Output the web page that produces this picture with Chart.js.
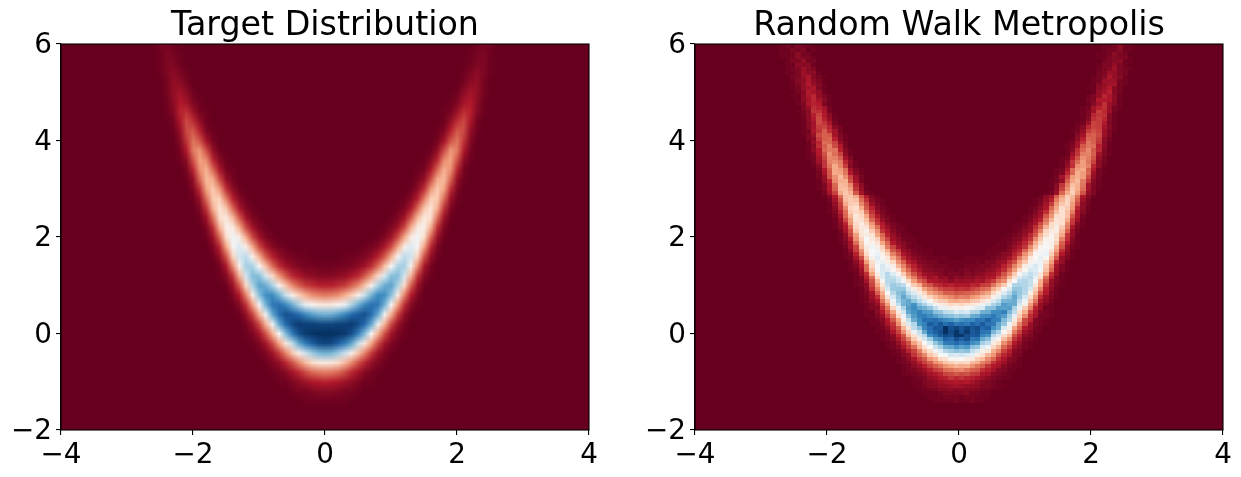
<!DOCTYPE html>
<html>
<head>
<meta charset="utf-8">
<script src="https://cdn.jsdelivr.net/npm/chart.js@4"></script>
<style>
html, body { margin: 0; padding: 0; background: #fff; overflow: hidden; }
.panel { position: absolute; top: 0; height: 477px; }
</style>
</head>
<body>
<div class="panel" style="left:0;width:620px"><canvas id="target"></canvas></div>
<div class="panel" style="left:620px;width:621px"><canvas id="walk"></canvas></div>
<script>
// density, in percent of the colour scale. rows go from y=-1.4 up in steps of 0.2,
// each row starts at targetStart (tenths of x) and is mirrored around x=0
const targetStart = [0,0,0,0,0,0,0,0,0,0,0,0,0,0,0,3,6,8,9,10,11,12,13,14,14,15,16,17,17,18,18,19,20,20,21,21,22,22];
const targetRows = [
  [1,1,1,1],
  [4,4,3,2,2,1],
  [11,10,9,7,5,3,1,1],
  [24,23,21,17,12,8,4,2,1],
  [45,44,40,34,26,18,12,6,3,1],
  [74,73,68,61,47,36,25,15,7,3,1],
  [96,95,91,85,76,62,44,30,17,8,3,1],
  [100,100,99,98,94,85,72,50,32,18,8,3,1],
  [96,96,97,97,98,95,89,76,53,33,17,7,2],
  [74,75,78,83,89,92,94,88,76,52,32,16,6,1],
  [45,46,49,54,66,75,83,88,86,74,50,29,13,4,1],
  [24,25,27,32,38,47,62,74,82,81,71,46,25,10,3],
  [11,11,13,15,20,26,36,48,66,75,77,66,40,20,7,1],
  [4,4,5,6,9,12,19,28,40,58,71,72,60,33,14,4,1],
  [1,1,2,2,3,5,8,13,22,35,50,66,67,47,26,9,2],
  [1,1,2,3,6,11,19,32,48,63,60,39,18,6,1],
  [1,2,4,9,17,31,47,57,49,30,12,3],
  [1,3,8,17,31,46,52,41,21,7,1],
  [1,3,8,17,32,46,47,32,13,3],
  [1,3,8,19,34,45,41,22,7,1],
  [1,3,9,21,36,43,32,14,3],
  [1,4,11,24,38,37,22,7,1],
  [1,5,13,28,37,30,13,3],
  [2,6,17,31,34,21,6,1],
  [1,2,9,21,32,27,12,2],
  [1,4,12,26,30,18,5,1],
  [1,6,17,28,24,10,2],
  [2,8,18,23,14,4],
  [1,3,11,19,17,6,1],
  [1,6,13,17,9,2],
  [1,2,7,13,11,4,1],
  [1,3,8,10,5,1],
  [1,5,8,6,2],
  [0,2,5,6,2,0],
  [1,3,5,3,1],
  [0,1,3,3,1,0],
  [1,2,3,1,0],
  [0,1,2,2,0],
];

// histogram of the walk, 100 bins a side. walkCore: one blob per row, y=-1.40 up in steps of 0.08
const walkCoreStart = [44,44,43,42,41,41,40,39,39,38,38,38,37,37,36,36,35,35,34,34,33,33,32,32,32,32,31,31,31,31,30,30,30,30,29,29,29,28];
const walkCoreRows = [
  [0,1,1,1,1,2,1,1,2,1,1,0],
  [1,1,1,2,2,2,1,2,2,1,1,1],
  [1,1,1,2,3,3,3,3,4,2,2,1,1,0],
  [1,1,2,3,4,4,5,4,5,4,4,3,2,2,1,1],
  [1,1,2,4,4,6,6,7,8,7,6,6,5,3,3,2,1,1],
  [1,1,3,4,5,7,8,9,10,9,10,8,6,4,3,2,1,0],
  [0,1,2,3,6,7,10,11,14,12,14,12,11,9,7,5,3,2,1,1],
  [1,1,2,3,5,8,10,12,16,17,19,17,18,15,14,9,8,4,3,2,1,0],
  [1,2,3,5,7,11,15,17,22,23,25,26,23,20,19,13,11,8,4,3,1,1],
  [0,1,2,5,7,11,16,20,23,28,30,33,31,32,27,23,20,14,10,8,4,2,1,1],
  [1,2,3,6,11,16,20,27,30,36,38,41,39,40,34,32,25,22,14,10,7,3,2,1],
  [1,2,5,9,15,19,28,32,40,42,49,48,50,46,45,37,34,26,21,13,9,4,3,1],
  [1,1,4,6,14,20,26,36,40,50,51,59,57,60,57,55,46,42,33,28,18,12,8,3,2,0],
  [1,2,5,11,16,24,35,41,52,56,65,68,71,69,71,62,58,47,44,32,26,16,11,4,3,1],
  [1,2,4,9,15,22,33,42,50,61,67,75,76,80,77,79,71,69,57,52,39,33,21,15,7,4,2,1],
  [1,2,6,12,18,30,37,50,59,70,76,85,86,89,86,88,81,79,67,63,46,40,27,20,10,6,2,1],
  [1,2,4,9,16,25,37,45,59,68,79,82,91,89,94,91,94,86,87,75,71,56,48,34,27,14,9,3,2,1],
  [1,2,5,12,19,34,42,58,64,81,87,92,95,94,99,99,94,92,93,83,80,64,58,41,34,18,12,5,3,1],
  [1,1,3,9,16,27,38,53,62,76,87,91,94,100,95,99,94,98,92,94,87,86,73,66,49,41,24,16,7,4,1,1],
  [1,2,5,12,19,33,44,63,71,83,88,93,92,100,94,96,93,96,93,95,89,91,80,75,58,47,30,21,10,6,2,1],
  [1,1,3,9,14,27,40,57,65,80,84,92,89,93,88,91,86,88,86,91,88,92,87,86,76,70,53,40,25,16,7,3,2,1],
  [1,2,4,10,19,30,47,62,75,81,88,87,88,85,82,80,77,80,82,82,87,86,91,85,84,72,64,45,33,17,12,3,2,1],
  [1,1,3,6,15,24,40,53,70,78,84,85,81,78,75,72,71,68,70,68,75,76,81,82,86,81,78,67,55,38,26,13,8,2,2,1],
  [1,1,5,10,19,30,45,60,76,80,84,79,78,71,69,63,62,57,60,58,65,66,74,75,81,81,84,73,63,42,32,17,10,3,2,1],
  [1,3,4,13,23,39,54,66,78,81,76,74,70,62,54,54,47,49,47,51,52,58,58,71,71,78,77,78,66,54,37,25,11,6,1,1],
  [1,3,6,17,29,47,62,74,76,80,71,66,59,52,46,44,40,42,39,42,44,46,53,58,66,70,78,76,75,58,47,29,17,6,3,1],
  [1,2,5,9,23,35,53,67,73,76,70,63,57,49,40,37,36,32,31,33,32,36,37,42,46,57,63,73,74,75,63,53,35,23,9,5,2,0],
  [1,2,7,13,28,43,59,69,76,70,63,58,45,39,34,30,28,26,23,25,24,28,30,35,37,47,55,65,70,76,68,59,41,28,13,6,3,1],
  [1,3,8,20,32,50,64,71,73,63,57,46,39,30,27,24,20,20,18,19,20,21,23,27,30,39,46,57,64,73,69,64,47,34,18,10,3,1],
  [1,4,13,25,38,58,68,69,69,58,46,40,30,25,21,17,15,15,13,14,13,16,18,21,23,32,38,49,58,69,69,65,58,38,25,11,5,1],
  [1,2,5,16,30,44,62,68,66,63,49,37,32,21,18,13,12,10,11,9,10,9,12,11,15,16,23,30,37,49,65,66,65,62,44,30,14,6,2,1],
  [1,2,8,18,34,49,64,65,60,52,40,29,21,17,10,9,8,7,5,7,6,7,7,9,8,12,15,23,27,42,50,63,65,62,51,32,18,6,3,1],
  [1,3,11,22,41,56,64,62,57,45,31,24,15,12,7,9,5,6,3,5,4,5,5,7,6,9,10,17,22,33,43,57,62,64,54,41,22,11,3,1],
  [1,6,13,30,46,57,64,57,49,37,26,18,12,7,6,5,4,2,3,3,2,4,3,4,5,7,8,12,18,26,37,49,57,62,59,44,30,13,6,1],
  [1,2,7,21,35,51,58,56,49,41,29,21,13,9,5,4,3,3,2,2,1,2,3,2,3,3,5,6,9,13,21,29,41,49,58,56,51,35,21,7,3,1],
  [1,3,10,22,39,51,58,53,46,33,25,16,11,6,4,3,2,2,2,1,1,1,2,2,2,3,3,5,6,11,16,25,33,46,53,58,53,37,24,8,3,1],
  [1,5,12,29,41,53,54,46,39,27,20,11,8,4,3,2,2,1,1,1,1,1,1,1,2,1,3,3,6,7,13,18,29,37,48,52,53,41,29,12,6,1],
  [1,2,8,17,35,47,56,49,44,31,23,13,8,5,3,2,1,1,1,1,0,0,0,1,1,1,1,1,2,3,5,8,13,23,31,44,50,54,49,33,19,6,3,1],
];
// above that the band splits in two arms, y=1.64 up in steps of 0.08
const walkLeftStart = [28,28,27,27,27,27,27,26,26,26,26,25,25,25,25,24,23,23,23,22,22,22,22,21,21,21,20,20,20,20,19,19,19,19,19,19,19,19,19,18,18,18,18,17,17,17,17,17,16,16,16,16,15,15,15];
const walkLeftRows = [
  [1,3,11,24,40,50,53,47,38,25,18,9,6,3,2,1,1],
  [1,5,15,27,44,50,52,41,32,19,14,6,5,2,1,1,1],
  [0,2,8,16,34,45,52,46,38,24,16,8,5,2,1,1,0],
  [1,3,8,22,36,49,47,43,30,21,10,6,4,2,1,0],
  [1,4,11,27,39,50,45,38,24,16,7,5,2,1,1],
  [1,5,16,29,43,46,43,30,21,11,6,3,1,1],
  [2,8,18,36,44,47,37,27,14,9,4,2,1],
  [1,4,10,22,39,44,43,31,22,11,7,3,1,1],
  [1,5,12,28,40,46,38,28,15,10,4,2,1],
  [1,6,17,29,43,41,35,21,13,6,3,1],
  [2,8,21,33,44,39,30,17,10,4,2,1],
  [1,3,11,22,37,40,37,24,14,6,3,1],
  [1,4,14,26,39,41,31,19,11,4,2,1],
  [1,6,15,31,37,38,26,17,7,3,1],
  [2,8,18,34,37,35,22,13,5,2,1],
  [1,3,10,22,35,36,31,18,10,3,1],
  [0,2,8,16,31,36,33,19,8,2,1],
  [1,3,10,20,34,35,29,14,6,1,0],
  [1,3,10,21,34,33,26,12,5,1,0],
  [0,1,6,12,26,32,32,18,8,2,0],
  [0,2,6,18,27,34,27,16,7,2,0],
  [0,2,9,19,31,30,23,10,4,1,0],
  [0,3,10,20,31,29,22,8,3,1,0],
  [0,1,4,14,23,31,25,15,4,1,0],
  [0,2,7,14,25,27,24,12,5,1,0],
  [1,2,8,16,26,25,20,8,3,0,0],
  [0,1,3,10,18,27,22,16,5,1,0],
  [0,1,5,10,21,24,23,11,4,1,0],
  [0,1,4,13,20,25,17,10,2,0,0],
  [0,1,6,12,22,21,16,6,2,0,0],
  [0,0,3,5,15,20,21,11,4,1,0],
  [0,1,3,7,17,20,19,8,3,1,0],
  [0,1,2,9,14,20,13,8,2,0,0],
  [0,1,4,8,15,16,12,4,2,0,0],
  [0,1,4,8,17,14,9,2,0],
  [0,1,5,10,17,11,6,1,0],
  [0,2,5,11,16,10,5,1,0],
  [1,2,5,14,13,9,2,0,0],
  [0,3,6,13,11,8,2,0,0],
  [0,1,3,9,11,10,3,1,0],
  [0,1,5,8,12,8,4,1,0],
  [1,1,5,9,12,6,3,1,0],
  [0,2,4,10,8,6,1,0,0],
  [0,1,2,6,8,9,3,1,0],
  [0,1,3,6,10,6,4,1,0],
  [0,1,4,5,9,5,3,0,0],
  [0,2,3,6,9,4,2,1,0],
  [1,1,3,7,5,5,1,0,0],
  [0,1,2,3,7,4,3,0,0],
  [0,1,1,5,4,5,1,0,0],
  [0,1,3,3,6,2,2,0,0],
  [1,1,2,5,3,3,1,0,0],
  [0,1,1,2,5,2,2,0,0],
  [0,1,1,3,2,3,0,1,0],
  [0,1,2,1,3,2,1,0,0],
];
const walkRightStart = [55,55,56,57,58,59,60,60,61,62,62,63,63,64,64,65,66,66,66,67,67,67,68,68,68,68,69,69,69,69,70,70,70,70,72,72,72,72,73,73,73,73,74,74,74,74,74,75,75,75,75,75,76,76,76];
const walkRightRows = [
  [1,1,2,4,5,11,16,27,36,49,52,53,38,24,10,4,1],
  [1,1,1,2,4,8,12,21,30,43,49,52,42,29,13,6,1],
  [1,1,1,3,6,9,14,26,36,48,50,47,32,18,6,2,1],
  [1,1,2,4,7,12,19,32,41,49,47,38,20,10,3,1],
  [1,1,3,4,9,14,26,36,47,48,41,25,13,4,1],
  [1,2,3,6,12,19,32,41,48,41,31,14,6,1],
  [1,2,5,7,16,25,39,45,46,34,20,6,2],
  [1,1,3,6,13,20,33,41,46,37,24,9,3,1],
  [1,2,5,8,17,26,40,44,42,26,14,4,1],
  [1,3,7,11,23,33,43,41,31,15,7,1],
  [1,2,5,8,19,28,41,42,35,19,9,2],
  [1,3,7,13,25,35,42,35,24,9,4,1],
  [1,2,5,9,21,31,41,37,28,12,5,1],
  [1,3,8,15,28,36,39,29,17,5,2],
  [1,2,6,11,24,33,39,32,20,7,2],
  [1,5,8,20,29,38,33,23,9,4,1],
  [1,2,7,21,31,38,29,18,6,3,0],
  [0,1,5,16,27,37,32,22,8,3,1],
  [0,1,4,14,24,35,32,23,8,3,1],
  [1,2,6,20,30,34,24,14,4,1,0],
  [0,2,8,16,29,32,29,17,6,2,0],
  [0,1,3,12,21,32,29,21,7,2,1],
  [1,2,9,22,29,31,20,10,2,0,0],
  [0,1,6,13,27,29,25,12,5,1,0],
  [0,1,4,14,22,29,23,16,5,2,0],
  [0,1,2,10,18,27,24,18,6,2,0],
  [0,1,7,14,24,25,20,8,3,1,0],
  [0,1,4,13,21,26,19,12,3,1,0],
  [0,1,3,8,19,23,22,11,5,1,0],
  [0,1,2,8,14,23,20,14,4,1,0],
  [0,1,5,11,21,20,15,5,2,0,0],
  [0,0,4,8,19,20,17,7,3,0,0],
  [0,1,2,6,15,18,16,7,3,1,0],
  [0,0,2,4,12,16,15,8,4,1,0],
  [1,2,7,16,15,10,3,1,0],
  [0,1,4,13,15,12,4,1,0],
  [0,1,3,12,14,13,4,1,0],
  [0,1,3,7,15,12,7,2,0],
  [1,2,8,11,13,6,2,1,0],
  [0,1,4,8,13,7,4,1,0],
  [0,2,3,10,10,9,5,1,0],
  [0,1,3,6,12,9,5,1,0],
  [0,1,6,8,11,4,2,0,0],
  [1,1,5,7,10,4,2,0,0],
  [0,1,4,6,8,8,2,1,0],
  [0,1,2,7,7,7,2,1,0],
  [0,1,2,4,9,6,4,1,0],
  [0,2,3,7,6,3,2,0,0],
  [0,1,3,4,7,3,2,1,0],
  [0,1,3,3,6,3,1,0,0],
  [0,0,2,3,4,5,1,1,0],
  [0,1,1,3,4,3,3,1,0],
  [1,1,2,5,3,2,0,0,0],
  [0,1,2,2,4,1,1,0,0],
  [0,1,1,2,5,1,1,0,0],
];
const rdBu = ['#67001f','#b2182b','#d6604d','#f4a582','#fddbc7','#f7f7f7','#d1e5f0','#92c5de','#4393c3','#2166ac','#053061'];
const xTicks = [-4,-2,0,2,4];
const yTicks = [-2,0,2,4,6];

function hexToRgb(h) {
  return [1,3,5].map(i => parseInt(h.slice(i,i+2),16));
}
function colourFor(v) {
  const t = Math.min(v/100,1)*10, i = Math.min(Math.floor(t),9), f = t-i;
  const a = hexToRgb(rdBu[i]), b = hexToRgb(rdBu[i+1]);
  return `rgb(${a.map((c,k)=>Math.round(c+(b[k]-c)*f)).join(',')})`;
}

const targetPoints = [];
targetRows.forEach((row,r) => row.forEach((v,c) => {
  const x = (targetStart[r]+c)/10, y = -1.4+r*0.2;
  targetPoints.push({x, y, v});
  if (x > 0) targetPoints.push({x:-x, y, v});
}));

const walkPoints = [];
function addWalkRows(rows, starts, y0) {
  rows.forEach((row,r) => row.forEach((v,c) => {
    walkPoints.push({x:-3.96+(starts[r]+c)*0.08, y:y0+r*0.08, v});
  }));
}
addWalkRows(walkCoreRows, walkCoreStart, -1.4);
addWalkRows(walkLeftRows, walkLeftStart, 1.64);
addWalkRows(walkRightRows, walkRightStart, 1.64);

// paints the cells on a small canvas, one pixel a cell, then stretches it over the axes
const heatmap = {
  id: 'heatmap',
  beforeDatasetsDraw(chart, args, opts) {
    const {ctx, chartArea:a, scales:{x,y}} = chart;
    const off = document.createElement('canvas');
    off.width = opts.cols; off.height = opts.rows;
    const o = off.getContext('2d');
    o.fillStyle = rdBu[0];
    o.fillRect(0,0,off.width,off.height);
    chart.data.datasets[0].data.forEach(p => {
      o.fillStyle = colourFor(p.v);
      o.fillRect(Math.round((p.x-opts.x0)/opts.dx), opts.rows-1-Math.round((p.y-opts.y0)/opts.dy), 1, 1);
    });
    ctx.save();
    ctx.beginPath(); ctx.rect(a.left,a.top,a.width,a.height); ctx.clip();
    ctx.imageSmoothingEnabled = opts.smooth;
    const l = x.getPixelForValue(opts.x0-opts.dx/2), r = x.getPixelForValue(opts.x0+opts.dx*(opts.cols-0.5));
    const b = y.getPixelForValue(opts.y0-opts.dy/2), t = y.getPixelForValue(opts.y0+opts.dy*(opts.rows-0.5));
    ctx.drawImage(off,l,t,r-l,b-t);
    ctx.restore();
  },
  afterDraw(chart) {
    const {ctx, chartArea:a} = chart;
    ctx.save();
    ctx.strokeStyle = '#000'; ctx.lineWidth = 1.1;
    ctx.strokeRect(a.left,a.top,a.width,a.height);
    ctx.restore();
  }
};

function axis(min, max, list, fit, labelOffset) {
  return {
    type:'linear', min, max,
    afterBuildTicks(s) { s.ticks = list.map(value => ({value})); },
    afterFit: fit,
    border:{color:'#000', width:1.1},
    grid:{drawOnChartArea:false, drawTicks:true, tickLength:5, color:'#000', lineWidth:1.1},
    ticks:{color:'#000', font:{family:'DejaVu Sans', size:27.8}, padding:4, labelOffset, maxRotation:0, autoSkip:false,
      callback:v => String(v).replace('-','\u2212')}
  };
}

function makeChart(id, w, yWidth, right, title, points, grid) {
  const cv = document.getElementById(id);
  cv.width = w; cv.height = 477;
  return new Chart(cv, {
    type:'scatter',
    data:{datasets:[{data:points, pointRadius:0}]},
    options:{
      responsive:false, animation:false,
      layout:{padding:{left:0,right,top:0,bottom:0}},
      scales:{
        x:axis(-4,4,xTicks,s=>{s.height=47;},0),
        y:axis(-2,6,yTicks,s=>{s.width=yWidth;},2)
      },
      plugins:{
        legend:{display:false}, tooltip:{enabled:false},
        title:{display:true, text:title, color:'#000', fullSize:false, font:{family:'DejaVu Sans', size:33.3, weight:'normal', lineHeight:1}, padding:{top:10,bottom:0.7}},
        heatmap:grid
      }
    },
    plugins:[heatmap]
  });
}

makeChart('target',620,61,31,'Target Distribution',targetPoints,{cols:81,rows:41,x0:-4,dx:0.1,y0:-2,dy:0.2,smooth:true});
makeChart('walk',621,75,18,'Random Walk Metropolis',walkPoints,{cols:100,rows:100,x0:-3.96,dx:0.08,y0:-1.96,dy:0.08,smooth:false});
</script>
</body>
</html>
